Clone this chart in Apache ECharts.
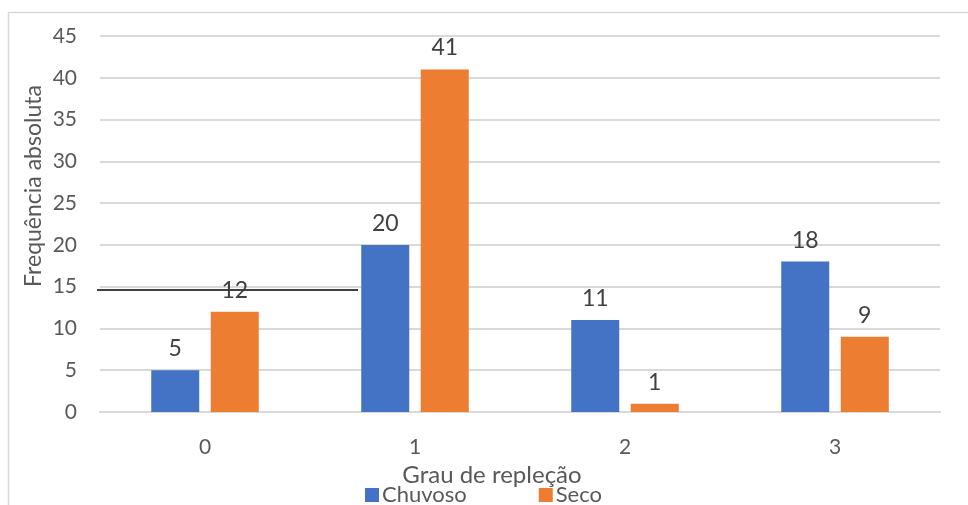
<!DOCTYPE html>
<html>
<head>
<meta charset="utf-8">
<script src="https://cdn.jsdelivr.net/npm/echarts@6/dist/echarts.min.js"></script>
<style>
  html, body { margin: 0; padding: 0; background: #ffffff; }
  #chart { width: 968px; height: 505px; }
</style>
</head>
<body>
<div id="chart"></div>
<script>
// Stomach repletion grade counts per season
const categories = ['0', '1', '2', '3'];
const chuvoso = [5, 20, 11, 18];
const seco = [12, 41, 1, 9];
const yTicks = { min: 0, max: 45, interval: 5 };
const refLineValue = 14.6;

const FONT = 'Lato, "Liberation Sans", sans-serif';
const chart = echarts.init(document.getElementById('chart'), null, { renderer: 'canvas' });

const labelStyle = {
  show: true,
  position: 'top',
  distance: 10,
  color: '#404040',
  fontFamily: FONT,
  fontSize: 23
};

chart.setOption({
  animation: false,
  backgroundColor: '#ffffff',
  textStyle: { fontFamily: FONT },
  grid: { left: 100, right: 28, top: 36, bottom: 93, containLabel: false },
  legend: {
    top: 479,
    left: 360,
    itemWidth: 14,
    itemHeight: 14,
    itemGap: 72,
    icon: 'rect',
    textStyle: { color: '#595959', fontFamily: FONT, fontSize: 22, padding: [0, 0, 0, -2] },
    data: ['Chuvoso', 'Seco']
  },
  xAxis: {
    type: 'category',
    data: categories,
    name: 'Grau de repleção',
    nameLocation: 'middle',
    nameGap: 42,
    nameTextStyle: { color: '#595959', fontFamily: FONT, fontSize: 24, padding: [0, 56, 0, 0] },
    axisLine: { lineStyle: { color: '#d9d9d9', width: 2 } },
    axisTick: { show: false },
    axisLabel: { color: '#595959', fontFamily: FONT, fontSize: 21, margin: 25 }
  },
  yAxis: {
    type: 'value',
    min: yTicks.min,
    max: yTicks.max,
    interval: yTicks.interval,
    axisLine: { show: false },
    axisTick: { show: false },
    axisLabel: { color: '#595959', fontFamily: FONT, fontSize: 21, margin: 23 },
    splitLine: { lineStyle: { color: '#d9d9d9', width: 2 } }
  },
  series: [
    {
      name: 'Chuvoso',
      type: 'bar',
      data: chuvoso,
      barWidth: 48,
      barGap: '24%',
      itemStyle: { color: '#4472c4' },
      label: labelStyle
    },
    {
      name: 'Seco',
      type: 'bar',
      data: seco,
      barWidth: 48,
      barGap: '24%',
      itemStyle: { color: '#ed7d31' },
      label: labelStyle
    }
  ]
});

// Frame, y-axis title and the horizontal rule across the first categories
function drawExtras() {
  const y = chart.convertToPixel({ yAxisIndex: 0 }, refLineValue);
  const c1 = chart.convertToPixel({ xAxisIndex: 0 }, '1');
  chart.setOption({
    graphic: [
      {
        type: 'rect',
        shape: { x: 8.5, y: 12.5, width: 1200, height: 800 },
        style: { fill: 'none', stroke: '#d9d9d9', lineWidth: 1.5 },
        silent: true
      },
      {
        type: 'text',
        x: 34,
        y: 186,
        rotation: Math.PI / 2,
        style: {
          text: 'Frequência absoluta',
          fill: '#595959',
          font: '23px ' + FONT,
          align: 'center',
          verticalAlign: 'middle'
        }
      },
      {
        type: 'line',
        shape: { x1: 97, y1: y, x2: c1 - 57, y2: y },
        style: { stroke: '#404040', lineWidth: 2 },
        z: 10
      }
    ]
  });
}
drawExtras();
</script>
</body>
</html>
